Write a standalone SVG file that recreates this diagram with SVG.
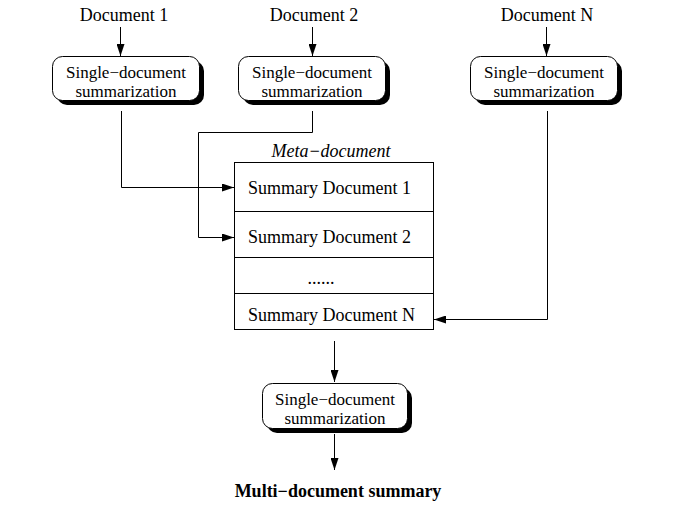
<svg xmlns="http://www.w3.org/2000/svg" width="686" height="506" viewBox="0 0 686 506">
<defs>
<marker id="ah" markerWidth="12" markerHeight="8" refX="12" refY="4" orient="auto" markerUnits="userSpaceOnUse">
<path d="M0,0 L12,4 L0,8 Z" fill="#000"/>
</marker>
<style>
text{font-family:"Liberation Serif","Times New Roman",serif;font-size:18px;fill:#000}
.c{text-anchor:middle}
.b{font-size:17px}
.box{fill:#fff;stroke:#000;stroke-width:1}
.sh{fill:#000}
.ln{fill:none;stroke:#000;stroke-width:1}
.ar{fill:none;stroke:#000;stroke-width:1;marker-end:url(#ah)}
</style>
</defs>
<rect width="686" height="506" fill="#fff"/>
<g id="doc1"><text class="c" x="124" y="21">Document 1</text></g>
<g id="doc2"><text class="c" x="314" y="21">Document 2</text></g>
<g id="docN"><text class="c" x="547" y="21">Document N</text></g>
<g id="sum1">
<rect class="sh" x="57" y="61" width="147" height="44" rx="10"/>
<rect class="box" x="52.5" y="56.5" width="147" height="44" rx="10"/>
<text class="c b" x="126" y="78">Single−document</text>
<text class="c b" x="126" y="97">summarization</text>
</g>
<g id="sum2">
<rect class="sh" x="243" y="61" width="147" height="44" rx="10"/>
<rect class="box" x="238.5" y="56.5" width="147" height="44" rx="10"/>
<text class="c b" x="312" y="78">Single−document</text>
<text class="c b" x="312" y="97">summarization</text>
</g>
<g id="sumN">
<rect class="sh" x="475" y="61" width="147" height="44" rx="10"/>
<rect class="box" x="470.5" y="56.5" width="147" height="44" rx="10"/>
<text class="c b" x="544" y="78">Single−document</text>
<text class="c b" x="544" y="97">summarization</text>
</g>
<g id="meta">
<text class="c" x="331" y="157" font-style="italic">Meta−document</text>
<rect class="box" x="234.5" y="162.5" width="199" height="167"/>
<line class="ln" x1="234.5" y1="211.5" x2="433.5" y2="211.5"/>
<line class="ln" x1="234.5" y1="257.5" x2="433.5" y2="257.5"/>
<line class="ln" x1="234.5" y1="293.5" x2="433.5" y2="293.5"/>
<text x="248" y="194">Summary Document 1</text>
<text x="248" y="243">Summary Document 2</text>
<text class="c" x="321" y="284">......</text>
<text x="248" y="321">Summary Document N</text>
</g>
<g id="final">
<rect class="sh" x="267" y="388" width="145" height="45" rx="10"/>
<rect class="box" x="262.5" y="383.5" width="145" height="45" rx="10"/>
<text class="c b" x="335" y="405">Single−document</text>
<text class="c b" x="335" y="424">summarization</text>
</g>
<g id="result"><text class="c" x="338" y="497" font-weight="bold">Multi−document summary</text></g>
<g id="connectors">
<line class="ar" x1="120.5" y1="27" x2="120.5" y2="56"/>
<line class="ar" x1="312.5" y1="27" x2="312.5" y2="56"/>
<line class="ar" x1="546.5" y1="27" x2="546.5" y2="56"/>
<polyline class="ar" points="121.5,111 121.5,187.5 234,187.5"/>
<polyline class="ar" points="312.5,111 312.5,132.5 198.5,132.5 198.5,237.5 234,237.5"/>
<polyline class="ar" points="547.5,111 547.5,319.5 434,319.5"/>
<line class="ar" x1="334.5" y1="341" x2="334.5" y2="382"/>
<line class="ar" x1="334.5" y1="434" x2="334.5" y2="470"/>
</g>
</svg>
